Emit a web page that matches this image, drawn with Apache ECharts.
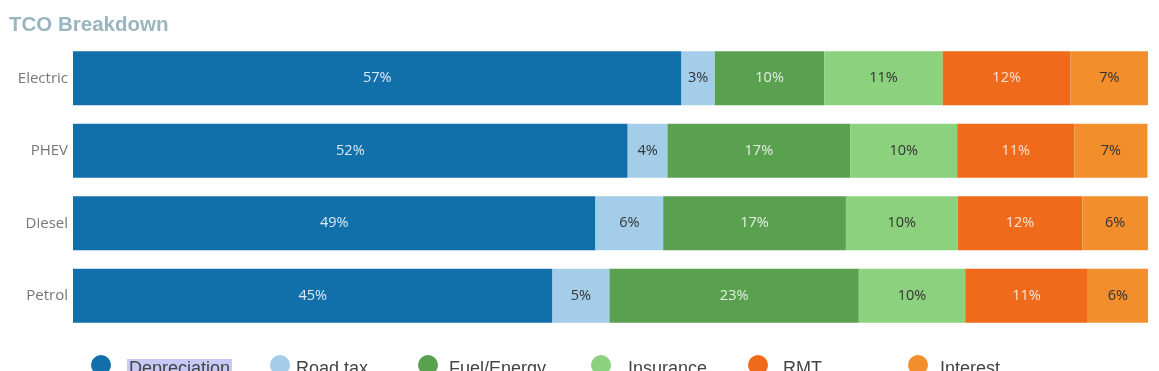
<!DOCTYPE html>
<html>
<head>
<meta charset="utf-8">
<script src="https://cdn.jsdelivr.net/npm/echarts@6/dist/echarts.min.js"></script>
<style>
html,body{margin:0;padding:0;background:#fff;}
#chart{width:1159px;height:371px;}
</style>
</head>
<body>
<div id="chart"></div>
<script>
const categories = ['Electric', 'PHEV', 'Diesel', 'Petrol'];
const depreciation = [56.6, 51.6, 48.6, 44.6];
const roadTax = [3.1, 3.7, 6.3, 5.3];
const fuelEnergy = [10.2, 17.0, 17.0, 23.2];
const insurance = [11.0, 9.95, 10.4, 9.9];
const rmt = [11.9, 10.9, 11.6, 11.4];
const interest = [7.2, 6.8, 6.1, 5.6];
const seriesNames = ['Depreciation', 'Road tax', 'Fuel/Energy', 'Insurance', 'RMT', 'Interest'];

const seriesData = [depreciation, roadTax, fuelEnergy, insurance, rmt, interest];
const colors = ['#1170aa', '#a3cde9', '#59a14f', '#8cd17d', '#ef6a1a', '#f28e2b'];
const labelColors = ['#dde9f3', '#333333', '#e4efe2', '#333333', '#fbe3d4', '#333333'];

// legend layout (pixel placement of each legend entry)
const legendLeft = [91, 270, 418, 591, 748, 908];
const legendTextPad = [11, 1, 6, 12, 10, 7];

const chart = echarts.init(document.getElementById('chart'));

const legendFont = 'Liberation Sans, Arial, sans-serif';
const legends = seriesNames.map((name, i) => {
  const textRich = {
    fontSize: 18,
    color: '#444',
    fontFamily: legendFont
  };
  if (i === 0) {
    textRich.backgroundColor = '#c9c9f7';
    textRich.padding = [1, 2, 1, 2];
  }
  return {
    data: [name],
    left: legendLeft[i],
    top: 355,
    padding: 0,
    orient: 'horizontal',
    icon: 'circle',
    itemWidth: 20,
    itemHeight: 20,
    selectedMode: false,
    formatter: '{s|}{t|{name}}',
    textStyle: {
      fontFamily: legendFont,
      fontSize: 18,
      color: '#444',
      padding: [8, 0, 0, 0],
      rich: {
        s: { width: legendTextPad[i] },
        t: textRich
      }
    }
  };
});

chart.setOption({
  animation: false,
  title: {
    text: 'TCO Breakdown',
    left: 4,
    top: 10,
    textStyle: {
      fontFamily: 'Liberation Sans, Arial, sans-serif',
      fontSize: 20.5,
      fontWeight: 'bold',
      color: '#9ab5bd'
    }
  },
  legend: legends,
  grid: { left: 73, right: 11, top: 42, bottom: 39, containLabel: false },
  xAxis: {
    type: 'value',
    min: 0,
    max: 100,
    show: false
  },
  yAxis: {
    type: 'category',
    data: categories,
    inverse: true,
    axisLine: { show: false },
    axisTick: { show: false },
    axisLabel: {
      fontFamily: 'Open Sans, sans-serif',
      fontSize: 15,
      color: '#777',
      margin: 5
    }
  },
  series: seriesNames.map((name, i) => ({
    name: name,
    type: 'bar',
    stack: 'total',
    barWidth: 54,
    data: seriesData[i],
    itemStyle: { color: colors[i] },
    label: {
      show: true,
      position: 'inside',
      formatter: p => Math.round(p.value) + '%',
      fontFamily: 'Open Sans, sans-serif',
      fontSize: 14.5,
      color: labelColors[i]
    }
  }))
});
</script>
</body>
</html>
